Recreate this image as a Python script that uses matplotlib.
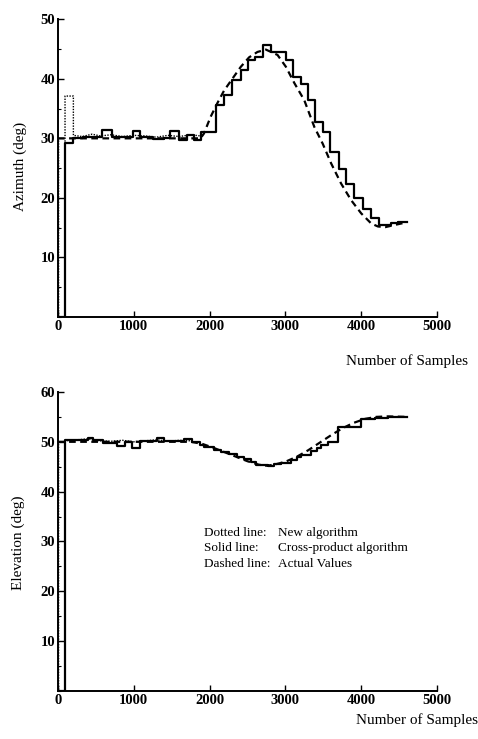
import matplotlib.pyplot as plt
from matplotlib.ticker import MultipleLocator

plt.rcParams["font.family"] = ["Liberation Serif", "DejaVu Serif"]

# Azimuth panel
az_solid_x = [0, 93, 203, 330, 583, 715, 993, 1086, 1250, 1400, 1483, 1590, 1700, 1800,
              1880, 2080, 2190, 2300, 2410, 2500, 2600, 2700, 2810, 3010, 3100, 3210,
              3300, 3390, 3500, 3590, 3710, 3800, 3910, 4020, 4130, 4240, 4390, 4480, 4600]
az_solid_y = [0, 29.3, 30.0, 30.2, 31.4, 30.3, 31.3, 30.2, 29.9, 30.1, 31.3, 29.8, 30.6, 29.8,
              31.0, 35.6, 37.2, 39.8, 41.5, 43.1, 43.7, 45.6, 44.5, 43.1, 40.3, 39.2,
              36.4, 32.8, 31.1, 27.7, 24.9, 22.4, 19.9, 18.2, 16.6, 15.4, 15.8, 16.0, 16.0]

az_dash_x = [0, 1880, 1925, 2013, 2102, 2190, 2300, 2411, 2521, 2631, 2742, 2896, 3007,
             3117, 3249, 3382, 3492, 3603, 3735, 3868, 4000, 4132, 4221, 4320, 4420, 4600]
az_dash_y = [30, 30, 30.8, 33.6, 35.9, 38.0, 40.0, 42.0, 43.6, 44.5, 44.9, 44.0, 42.0,
             39.3, 36.4, 31.9, 29.1, 25.8, 22.4, 19.6, 17.4, 15.7, 15.2, 15.1, 15.4, 15.9]

# new algorithm: only visible until it merges with the other traces
az_dot_x = [0, 8, 8, 93, 93, 203, 203, 320, 450, 560, 700, 850, 1000, 1150, 1300, 1450,
            1600, 1750, 1880]
az_dot_y = [30, 30, 0, 0, 37.1, 37.1, 30.5, 30.3, 30.7, 30.4, 30.6, 30.3, 30.5, 30.4, 30.2, 30.5,
            30.3, 30.6, 30.4]

# Elevation panel
el_solid_x = [0, 93, 402, 468, 600, 777, 887, 976, 1086, 1307, 1395, 1660, 1770, 1870, 1925,
              2057, 2146, 2250, 2366, 2455, 2543, 2609, 2764, 2850, 2940, 3073, 3150, 3205,
              3338, 3420, 3470, 3560, 3690, 4000, 4177, 4353, 4500, 4600]
el_solid_y = [0, 50.3, 50.8, 50.3, 49.7, 49.1, 50.0, 48.7, 50.1, 50.7, 50.1, 50.6, 49.9, 49.4, 48.9,
              48.3, 47.9, 47.5, 47.0, 46.5, 46.0, 45.3, 45.1, 45.5, 45.8, 46.3, 46.9, 47.3,
              48.2, 48.8, 49.3, 50.0, 52.9, 54.5, 54.8, 55.0, 54.9, 54.9]

el_dash_x = [0, 1750, 1900, 2050, 2200, 2350, 2500, 2650, 2750, 2850, 3000, 3150, 3300,
             3450, 3600, 3750, 3900, 4050, 4200, 4350, 4600]
el_dash_y = [50, 50, 49.6, 48.8, 47.9, 47.0, 46.1, 45.4, 45.2, 45.4, 46.0, 47.0, 48.3,
             49.8, 51.3, 52.7, 53.8, 54.6, 55.0, 55.1, 55.0]

el_dot_x = [0, 8, 8, 93, 93, 250, 400, 550, 700, 850, 1000, 1150, 1300, 1450, 1600, 1750]
el_dot_y = [50, 50, 0, 0, 50.2, 50.4, 50.6, 50.2, 50.1, 50.3, 50.0, 50.2, 50.4, 50.1, 50.3, 50.2]

legend_lines = [("Dotted line:", "New algorithm"),
                ("Solid line:", "Cross-product algorithm"),
                ("Dashed line:", "Actual Values")]


def style_axes(ax, ymax):
    ax.set_xlim(0, 5000)
    ax.set_ylim(0, ymax)
    for side in ("top", "right"):
        ax.spines[side].set_visible(False)
    for side in ("left", "bottom"):
        ax.spines[side].set_linewidth(1.4)
    ax.xaxis.set_major_locator(MultipleLocator(1000))
    ax.yaxis.set_major_locator(MultipleLocator(10))
    ax.yaxis.set_minor_locator(MultipleLocator(5))
    ax.tick_params(direction="in", length=4, width=1, labelsize=10.5, pad=2)
    ax.tick_params(which="minor", direction="in", length=2, width=0.8)
    ax.set_yticks(range(10, ymax + 1, 10))
    for lab in ax.get_xticklabels() + ax.get_yticklabels():
        lab.set_fontweight("bold")


fig = plt.figure(figsize=(4.78, 7.39), dpi=100)
ax1 = fig.add_axes([0.1213, 0.571, 0.793, 0.403])
ax2 = fig.add_axes([0.1213, 0.065, 0.793, 0.4046])

ax1.plot(az_dot_x, az_dot_y, color="black", lw=1.0, ls=(0, (1, 1)))
ax1.step(az_solid_x, az_solid_y, where="post", color="black", lw=1.6)
ax1.plot(az_dash_x, az_dash_y, color="black", lw=1.6, ls=(0, (3, 2)))
style_axes(ax1, 50)

ax2.plot(el_dot_x, el_dot_y, color="black", lw=1.0, ls=(0, (1, 1)))
ax2.step(el_solid_x, el_solid_y, where="post", color="black", lw=1.6)
ax2.plot(el_dash_x, el_dash_y, color="black", lw=1.6, ls=(0, (3, 2)))
style_axes(ax2, 60)

for i, (key, desc) in enumerate(legend_lines):
    y = 31.7 - i * 3.1
    ax2.text(1920, y, key, fontsize=9.5, va="center", ha="left")
    ax2.text(2900, y, desc, fontsize=9.5, va="center", ha="left")

fig.text(0.042, 0.775, "Azimuth (deg)", rotation=90, fontsize=11, ha="center", va="center")
fig.text(0.038, 0.265, "Elevation (deg)", rotation=90, fontsize=11, ha="center", va="center")
fig.text(0.979, 0.5115, "Number of Samples", fontsize=11, ha="right", va="center")
fig.text(0.999, 0.0257, "Number of Samples", fontsize=11, ha="right", va="center")

fig.savefig("out.png", dpi=100)
